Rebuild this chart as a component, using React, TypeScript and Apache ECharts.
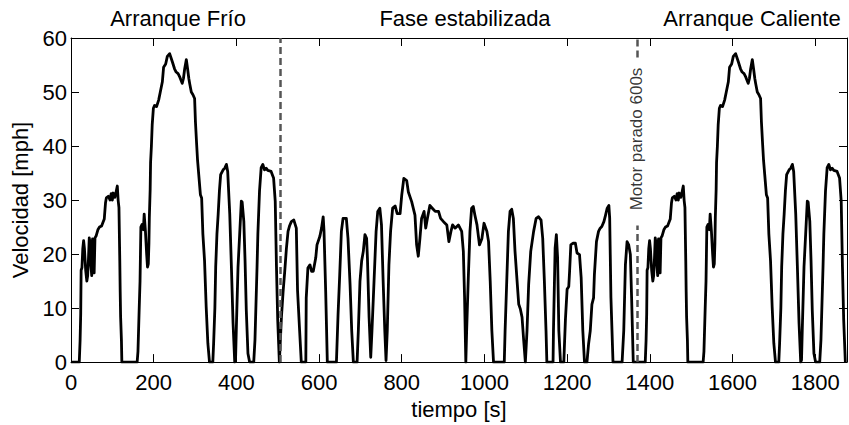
import React, { useEffect, useRef } from "react";
import * as echarts from "echarts";

// Velocidad [mph] vs tiempo [s]
const coldStart: number[][] = [
  [0, 0], [20, 0], [22, 4], [23.5, 9], [24.5, 17], [26.5, 17.5], [28.5, 21], [30.5, 22.5], [32.5, 21], [35.5, 17],
  [38.3, 15], [40.3, 16], [42.2, 19], [44.2, 23], [46.2, 22], [48.1, 18], [50.1, 16], [52, 22.8], [54, 21], [56, 16.5],
  [58, 23], [61, 23.4], [65, 24.5], [69, 25], [74, 25.2], [77, 25.8], [80.5, 26.5], [83.5, 29.5], [85.5, 30.4],
  [90.3, 30.7], [94.3, 30], [97.2, 31.2], [100, 30], [102, 31.3], [106, 30.5], [109, 31.5], [112, 32.6], [114, 30],
  [116, 28.6], [118, 18.8], [119, 13], [120, 8.4], [122, 4], [123, 0],
  [160, 0], [162, 2], [165, 10], [167, 15], [168, 20], [169, 25], [172, 25.5], [175, 24.5], [177, 27.4], [180, 24.3],
  [183, 20], [185, 17.6], [187, 18.2], [188.5, 22], [189.5, 26.8], [191.5, 32], [192.5, 37], [194.5, 40], [196.4, 43.9],
  [199.3, 47], [202, 47.5], [207, 47.3], [212, 48.5], [216, 50], [221, 51.9], [224, 54.6], [229, 55.2], [233, 56.6],
  [238.6, 57.1], [242.5, 56.2], [245.5, 55.5], [250.4, 54.3], [254.3, 53.7], [259, 53.4], [263, 52.8], [269, 51.6],
  [272, 52.5], [275, 54.3], [279, 56], [282, 54.3], [285, 52.5], [287, 51.6], [291, 50], [295, 49.5], [299, 48.8],
  [301, 44.5], [304, 40.2], [306, 37.5], [309, 34.7], [313, 31], [316, 30.4], [319, 23.7], [323, 18.8], [325, 14.5],
  [327, 10.2], [331, 3.5], [335, 0],
  [343, 0], [345, 3.5], [348, 10], [350, 17.6], [353, 23.7], [356, 27.4], [359, 31.7], [362, 34.7], [368, 35.6],
  [372, 35.9], [376, 36.6], [379, 35.3], [384, 27.4], [388, 17.6], [392, 7.2], [396, 0],
  [398, 0.4], [400, 6.5], [404, 17.6], [408, 23.7], [412, 29.8], [414, 29.6], [418, 26.1], [421, 18.8], [424, 9.6],
  [428, 1.6], [432, 0],
  [442, 0], [445, 4.1], [450, 17.6], [452, 23.7], [456, 31.7], [460, 36], [464, 36.6], [468, 35.6], [472, 35.9],
  [476, 35.5], [484, 35.3], [490, 34.1], [494, 29.8], [497, 17.6], [500, 7.8], [504, 0],
];

const stabilized: number[][] = [
  [505, 0], [509, 8.3], [513, 13], [517, 16.8], [521, 21], [525, 24.2], [529, 25.3], [533, 26], [539, 26.3], [545, 24.8],
  [548, 13.2], [553, 5.8], [557, 0],
  [568, 0], [569, 11.9], [573, 17.4], [578, 18], [582, 16.8], [586, 16.8], [592, 19.3], [595, 21.7], [602, 23.3],
  [606, 24.8], [610, 26.9], [612, 24.2], [616, 13.2], [620, 0],
  [642, 0], [646, 8.9], [650, 16.2], [654, 24.2], [658, 26.6], [666, 26.6], [670, 22.9], [675, 14.4], [679, 5.8], [683, 0],
  [692, 0], [695, 5.8], [699, 15], [703, 18.7], [707, 20.5], [711, 23.6], [715, 22.9], [717, 19.3], [721, 8.3],
  [725, 0.9], [728, 5.8], [733, 15], [738, 24.2], [742, 27.9], [747, 28.5], [751, 25.4], [755, 15], [759, 5.8], [762, 0.3],
  [765, 5.8], [769, 18], [773, 24.2], [778, 28.5], [784, 28.9], [789, 27.5], [796, 27.5], [800, 30.9], [805, 34],
  [812, 33.6], [816, 31.5], [824, 29.7], [832, 27.2], [836, 21.7], [840, 19.6], [844, 22.9], [848, 26.6], [854, 27.9],
  [858, 24.8], [862, 26.6], [868, 29], [875, 28.4], [881, 27.9], [889, 27.9], [894, 26.6], [901, 26], [909, 25.4],
  [914, 22.3], [919, 24.2], [923, 25.4], [929, 24.8], [937, 25.4], [941, 24.8], [945, 24.2], [949, 20.5], [952, 11.9],
  [955, 0],
  [957, 5.8], [961, 15.6], [965, 24.2], [969, 28.5], [973, 28.8], [977, 27.2], [982, 25.4], [988, 21.7], [994, 22.9],
  [999, 25.7], [1006, 24.2], [1010, 22.3], [1014, 15], [1018, 5.8], [1022, 0],
  [1048, 0], [1050, 5.8], [1054, 15], [1058, 24.2], [1062, 27.9], [1066, 28.3], [1070, 26.6], [1074, 20.5], [1079, 15],
  [1083, 10.7], [1087, 9.8], [1091, 8.3], [1095, 4], [1099, 0],
  [1103, 5.8], [1107, 14.4], [1112, 20.5], [1119, 24.2], [1125, 26.6], [1131, 26.9], [1137, 26.3], [1141, 22.9],
  [1145, 15], [1149, 5.8], [1151, 0],
  [1166, 0], [1167, 5.8], [1171, 21.1], [1174, 23.6], [1177, 19.3], [1180, 5.8], [1184, 0], [1192, 0], [1196, 8],
  [1200, 13.5], [1204, 14], [1206, 16.8], [1209, 21.7], [1214, 22], [1220, 22], [1224, 20.2], [1230, 19.9], [1234, 15.6],
  [1238, 5.8], [1242, 0], [1248, 0], [1252, 3.4], [1256, 5.8], [1260, 10.7], [1264, 11.9], [1266, 16.2], [1271, 22.3],
  [1276, 24.2], [1280, 24.8], [1284, 25.1], [1289, 26], [1293, 27.2], [1297, 28.5], [1301, 29], [1303, 26.6],
  [1306, 11.9], [1311, 0],
  [1333, 0], [1337, 5.8], [1341, 18], [1345, 22.3], [1349, 21.7], [1353, 19.9], [1356, 11.9], [1360, 0], [1369, 0],
];

const hotStart: number[][] = [
  [1389, 0], [1391, 4], [1392.5, 9], [1393.5, 17], [1395.5, 17.5], [1397.5, 21], [1399.5, 22.5], [1401.5, 21],
  [1404.5, 17], [1407.3, 15], [1409.3, 16], [1411.2, 19], [1413.2, 23], [1415.2, 22], [1417.1, 18], [1419.1, 16],
  [1421, 22.8], [1423, 21], [1425, 16.5], [1427, 23], [1430, 23.4], [1434, 24.5], [1438, 25], [1443, 25.2], [1446, 25.8],
  [1449.5, 26.5], [1452.5, 29.5], [1454.5, 30.4], [1459.3, 30.7], [1463.3, 30], [1466.2, 31.2], [1469, 30], [1471, 31.3],
  [1475, 30.5], [1478, 31.5], [1481, 32.6], [1483, 30], [1485, 28.6], [1487, 18.8], [1488, 13], [1489, 8.4], [1491, 4],
  [1492, 0],
  [1529, 0], [1531, 2], [1534, 10], [1536, 15], [1537, 20], [1538, 25], [1541, 25.5], [1544, 24.5], [1546, 27.4],
  [1549, 24.3], [1552, 20], [1554, 17.6], [1556, 18.2], [1557.5, 22], [1558.5, 26.8], [1560.5, 32], [1561.5, 37],
  [1563.5, 40], [1565.4, 43.9], [1568.3, 47], [1571, 47.5], [1576, 47.3], [1581, 48.5], [1585, 50], [1590, 51.9],
  [1593, 54.6], [1598, 55.2], [1602, 56.6], [1607.6, 57.1], [1611.5, 56.2], [1614.5, 55.5], [1619.4, 54.3], [1623.3, 53.7],
  [1628, 53.4], [1632, 52.8], [1638, 51.6], [1641, 52.5], [1644, 54.3], [1648, 56], [1651, 54.3], [1654, 52.5],
  [1656, 51.6], [1660, 50], [1664, 49.5], [1668, 48.8], [1670, 44.5], [1673, 40.2], [1675, 37.5], [1678, 34.7], [1682, 31],
  [1685, 30.4], [1688, 23.7], [1692, 18.8], [1694, 14.5], [1696, 10.2], [1700, 3.5], [1704, 0],
  [1712, 0], [1714, 3.5], [1717, 10], [1719, 17.6], [1722, 23.7], [1725, 27.4], [1728, 31.7], [1731, 34.7], [1737, 35.6],
  [1741, 35.9], [1745, 36.6], [1748, 35.3], [1753, 27.4], [1757, 17.6], [1761, 7.2], [1765, 0],
  [1767, 0.4], [1769, 6.5], [1773, 17.6], [1777, 23.7], [1781, 29.8], [1783, 29.6], [1787, 26.1], [1790, 18.8], [1793, 9.6],
  [1797, 1.6], [1801, 0],
  [1811, 0], [1814, 4.1], [1819, 17.6], [1821, 23.7], [1825, 31.7], [1829, 36], [1833, 36.6], [1837, 35.6], [1841, 35.9],
  [1845, 35.5], [1853, 35.3], [1859, 34.1], [1863, 29.8], [1866, 17.6], [1869, 7.8], [1873, 0],
];

const phaseBoundaries = [505, 1369];
const phaseTitles = ["Arranque Frío", "Fase estabilizada", "Arranque Caliente"];
const soakNote = "Motor parado 600s";
const xTicks = { min: 0, max: 1877, interval: 200 };
const yTicks = { min: 0, max: 60, interval: 10 };

const FONT = "'Liberation Sans', Arial, Helvetica, sans-serif";

export default function App() {
  const ref = useRef<HTMLDivElement>(null);
  useEffect(() => {
    if (!ref.current) return;
    const chart = echarts.init(ref.current, null, { renderer: "svg" });
    const data = [...coldStart, ...stabilized, ...hotStart];
    const axisCommon = {
      axisLine: { show: true, onZero: false, lineStyle: { color: "#000", width: 1 } },
      axisTick: { show: true, inside: true, length: 8, lineStyle: { color: "#000", width: 1 } },
      splitLine: { show: false },
    };
    const dashStyle = { color: "#555", width: 2.5, type: [7, 4] as any };
    const titleStyle = (text: string) => ({
      text,
      fill: "#000",
      font: `22px ${FONT}`,
      align: "center",
      verticalAlign: "middle",
    });
    chart.setOption({
      animation: false,
      backgroundColor: "#fff",
      textStyle: { fontFamily: FONT },
      grid: { left: 71, right: 2, top: 38, bottom: 60, containLabel: false },
      xAxis: [
        {
          type: "value",
          ...xTicks,
          position: "bottom",
          ...axisCommon,
          axisLabel: {
            show: true,
            color: "#000",
            fontSize: 22,
            fontFamily: FONT,
            margin: 9,
            showMaxLabel: false,
            formatter: (v: number) => String(v),
          },
          name: "tiempo [s]",
          nameLocation: "middle",
          nameGap: 34,
          nameTextStyle: { color: "#000", fontSize: 22, fontFamily: FONT },
        },
        {
          type: "value",
          ...xTicks,
          position: "top",
          ...axisCommon,
          axisLabel: { show: false },
        },
      ],
      yAxis: [
        {
          type: "value",
          ...yTicks,
          position: "left",
          ...axisCommon,
          axisLabel: { show: true, color: "#000", fontSize: 22, fontFamily: FONT, margin: 4, formatter: (v: number) => String(v) },
          name: "Velocidad [mph]",
          nameLocation: "middle",
          nameGap: 38,
          nameTextStyle: { color: "#000", fontSize: 22, fontFamily: FONT },
        },
        {
          type: "value",
          ...yTicks,
          position: "right",
          ...axisCommon,
          axisLabel: { show: false },
        },
      ],
      graphic: [
        { type: "text", x: 178, y: 18, style: titleStyle(phaseTitles[0]) },
        { type: "text", x: 465, y: 18, style: titleStyle(phaseTitles[1]) },
        { type: "text", x: 752, y: 18, style: titleStyle(phaseTitles[2]) },
      ],
      series: [
        {
          type: "line",
          data,
          xAxisIndex: 0,
          yAxisIndex: 0,
          showSymbol: false,
          symbol: "none",
          lineStyle: { color: "#000", width: 2.8, join: "round" },
          z: 3,
          markLine: {
            silent: true,
            symbol: ["none", "none"],
            label: { show: false },
            lineStyle: dashStyle,
            data: [
              [{ coord: [phaseBoundaries[0], 0] }, { coord: [phaseBoundaries[0], 60] }],
              [{ coord: [phaseBoundaries[1], 0] }, { coord: [phaseBoundaries[1], 25.3] }],
              [{ coord: [phaseBoundaries[1], 56.4] }, { coord: [phaseBoundaries[1], 60] }],
            ],
          },
        },
        {
          type: "scatter",
          data: [[phaseBoundaries[1], 41.3]],
          symbolSize: 0,
          silent: true,
          z: 4,
          label: {
            show: true,
            formatter: soakNote,
            position: "inside",
            rotate: 90,
            color: "#000",
            fontSize: 17,
            fontFamily: FONT,
            align: "center",
            verticalAlign: "middle",
          },
        },
      ],
    });
    return () => chart.dispose();
  }, []);
  return (
    <div
      ref={ref}
      style={{ position: "absolute", left: 0, top: 0, width: 849, height: 425, background: "#fff" }}
    />
  );
}
